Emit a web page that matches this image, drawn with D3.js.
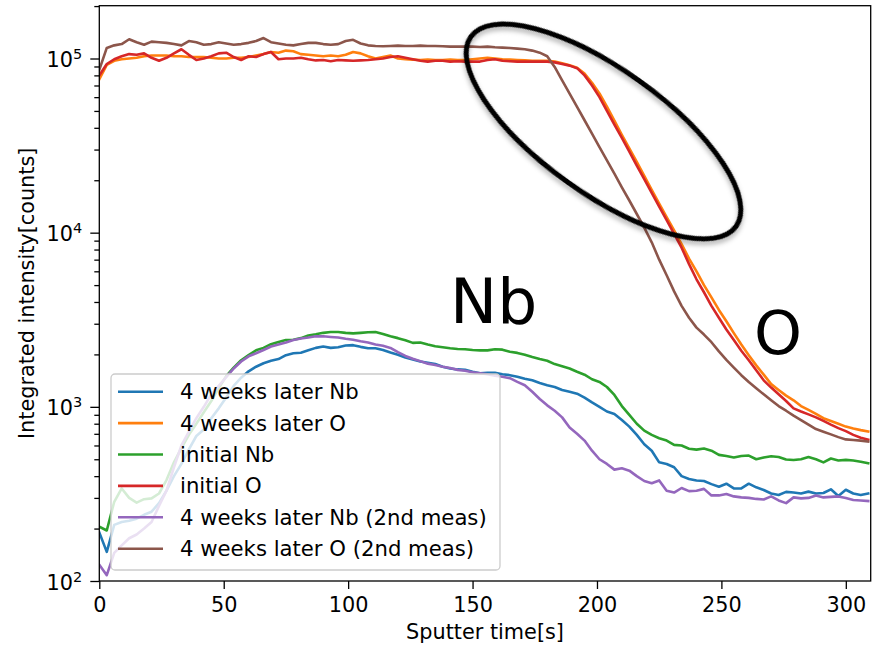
<!DOCTYPE html>
<html><head><meta charset="utf-8">
<script src="https://cdn.jsdelivr.net/npm/d3@7"></script>
<style>
body{margin:0;background:#fff;}
svg text{font-family:"DejaVu Sans",sans-serif;fill:#000;}
</style>
</head><body>
<svg id="chart" width="878" height="647"></svg>
<script>
// ---------- data ----------
const time = d3.range(0, 310, 3); // sputter time [s], one sample every 3 s

const seriesNames = [
  "4 weeks later Nb", "4 weeks later O", "initial Nb",
  "initial O", "4 weeks later Nb (2nd meas)", "4 weeks later O (2nd meas)"
];
const seriesColors = ["#1f77b4", "#ff7f0e", "#2ca02c", "#d62728", "#9467bd", "#8c564b"];

const laterNb = [
  190,147,210,218,222,228,240,250,280,330,
  400,470,570,680,740,860,980,1130,1320,1470,
  1600,1700,1780,1840,1880,1980,2030,2045,2110,2180,
  2220,2180,2200,2250,2260,2210,2170,2170,2120,2050,
  1990,1920,1870,1820,1790,1760,1700,1660,1640,1630,
  1590,1560,1570,1570,1540,1520,1490,1450,1420,1370,
  1330,1300,1250,1220,1190,1130,1060,1000,940,910,
  840,770,690,610,560,480,470,450,400,385,
  378,375,360,348,362,340,340,362,345,333,
  318,312,325,322,318,326,318,320,336,308,
  334,318,312,318
];
const laterO = [
  76000,92000,97000,99000,100000,101000,103000,104000,104000,104000,
  103000,103000,102000,102000,102000,101000,100000,100000,101000,101000,
  102000,104000,106000,109000,108000,111000,110000,106000,105000,104000,
  103000,104000,103000,105000,109000,107000,103000,100000,102000,104000,
  100000,99000,98500,98000,98500,98000,98000,98500,98000,98000,
  99000,100000,101000,100000,99000,98500,98000,97500,97000,97000,
  97000,96000,94000,91500,88500,82000,72500,63000,53000,44000,
  36500,30500,25500,21200,17600,14700,12300,10300,8600,7100,
  6000,5000,4250,3600,3100,2650,2280,1980,1730,1530,
  1350,1250,1160,1090,1010,960,910,860,830,800,
  770,750,735,722
];
const initialNb = [
  205,195,285,340,300,282,295,298,318,380,
  480,580,690,800,930,1080,1280,1500,1680,1850,
  1980,2110,2180,2290,2360,2420,2430,2480,2570,2610,
  2660,2690,2690,2660,2640,2660,2680,2690,2620,2540,
  2480,2410,2330,2340,2280,2230,2200,2170,2150,2140,
  2120,2110,2110,2140,2130,2070,2040,1990,1930,1880,
  1840,1760,1710,1660,1590,1530,1440,1390,1300,1170,
  1010,900,800,730,690,660,640,605,600,575,
  568,576,560,530,522,512,522,525,500,512,
  520,515,498,495,500,515,500,480,505,492,
  496,492,484,474
];
const initialO = [
  80000,93000,99000,103000,106000,105000,107000,101000,97000,101000,
  107000,113000,105000,98000,100000,103000,107000,108000,102000,98000,
  103000,102000,106000,109000,99000,100000,100000,101000,99000,97500,
  98000,96500,98000,97500,97000,97500,98000,99000,100000,102000,
  103000,101000,99000,97000,96000,97000,97000,96000,96500,96000,
  96000,96000,98000,99000,97000,96500,96000,96000,96000,96000,
  96000,95000,93000,91000,88000,80000,70000,60000,50000,41700,
  35000,29200,24300,20300,16900,14100,11800,9840,8200,6600,
  5400,4550,3800,3250,2780,2420,2100,1850,1620,1420,
  1290,1180,1080,980,940,905,870,830,790,755,
  725,690,665,648
];
const laterNb2 = [
  124,108,145,160,176,185,200,218,270,330,
  450,600,720,860,1000,1180,1320,1480,1660,1820,
  1950,2030,2120,2220,2280,2340,2420,2470,2500,2540,
  2540,2520,2500,2460,2430,2380,2340,2280,2240,2180,
  2060,1960,1890,1830,1770,1740,1700,1670,1630,1610,
  1580,1560,1540,1510,1490,1460,1390,1330,1220,1110,
  1020,950,870,760,700,640,560,500,470,436,
  444,430,400,375,364,378,330,322,342,328,
  330,338,310,310,316,306,302,300,296,294,
  306,290,280,302,298,300,310,302,304,306,
  300,292,290,288
];
const laterO2 = [
  86000,115000,119000,121000,129000,124000,120000,125000,124000,123000,
  121000,119000,126000,124000,120000,121000,124000,122000,120000,121000,
  123000,126000,131000,124000,122000,120000,119000,121000,123000,123000,
  121000,120000,121000,126000,128000,122000,119000,118000,117500,118000,
  118500,118000,118000,118500,118000,118000,117500,117000,117000,117000,
  117000,116500,117000,116000,115500,115000,114000,113000,111000,108000,
  103000,89500,75000,62800,52700,44200,37000,31000,26000,21800,
  18200,15300,12800,10700,8800,7000,5700,4600,3800,3250,
  2850,2600,2350,2080,1860,1680,1520,1390,1280,1180,
  1090,1010,950,890,840,790,745,720,695,670,
  650,645,640,632
];
const seriesValues = [laterNb, laterO, initialNb, initialO, laterNb2, laterO2];

const xTicks = [0, 50, 100, 150, 200, 250, 300];
const yMajorTicks = [1e2, 1e3, 1e4, 1e5];
const xLabel = "Sputter time[s]";
const yLabel = "Integrated intensity[counts]";
const annotations = [{text: "Nb"}, {text: "O"}];

// ---------- layout ----------
const svg = d3.select("#chart");
const L = 99.3, R = 870.7, T = 5.7, B = 581;
const x = d3.scaleLinear().domain([0, 310]).range([L, R]);
const y = d3.scaleLog().domain([100, 2.01e5]).range([B, T]);

svg.append("rect").attr("width", 878).attr("height", 647).attr("fill", "#fff");

const defs = svg.append("defs");
defs.append("clipPath").attr("id", "plotclip")
  .append("rect").attr("x", L).attr("y", T).attr("width", R - L).attr("height", B - T);
const f = defs.append("filter").attr("id", "shadow")
  .attr("x", "-20%").attr("y", "-20%").attr("width", "140%").attr("height", "140%");
f.append("feDropShadow").attr("dx", 2).attr("dy", 3).attr("stdDeviation", 2.5)
  .attr("flood-color", "#000").attr("flood-opacity", 0.3);

// lines
const line = d3.line().x((d, i) => x(time[i])).y(d => y(d));
const gLines = svg.append("g").attr("clip-path", "url(#plotclip)");
seriesValues.forEach((vals, k) => {
  gLines.append("path").datum(vals)
    .attr("d", line)
    .attr("fill", "none")
    .attr("stroke", seriesColors[k])
    .attr("stroke-width", 2.6)
    .attr("stroke-linejoin", "round")
    .attr("stroke-linecap", "square");
});

// axes
const fs = 20.8;
const xAxis = svg.append("g").attr("transform", `translate(0,${B})`)
  .call(d3.axisBottom(x).tickValues(xTicks).tickSize(8).tickPadding(8.5).tickFormat(d3.format("d")));
const yMinor = [];
[100, 1000, 10000, 100000].forEach(base => {
  for (let m = 2; m <= 9; m++) { const v = base * m; if (v <= 2.01e5) yMinor.push(v); }
});
const yAxisMinor = svg.append("g").attr("transform", `translate(${L},0)`)
  .call(d3.axisLeft(y).tickValues(yMinor).tickSize(5).tickFormat(""));
const yAxis = svg.append("g").attr("transform", `translate(${L},0)`)
  .call(d3.axisLeft(y).tickValues(yMajorTicks).tickSize(9).tickPadding(8).tickFormat(""));

[xAxis, yAxis, yAxisMinor].forEach(g => {
  g.select(".domain").remove();
  g.selectAll(".tick line").attr("stroke", "#000").attr("stroke-width", 1.3);
  g.selectAll("text").attr("font-size", fs).attr("font-family", "DejaVu Sans").attr("fill", "#000");
});
yAxis.selectAll(".tick text").each(function(d) {
  const t = d3.select(this).attr("dy", "8px");
  t.text(null);
  t.append("tspan").text("10");
  t.append("tspan").attr("dy", "-8px").attr("font-size", 14.5).text(Math.round(Math.log10(d)));
});

// spines
svg.append("rect").attr("x", L).attr("y", T).attr("width", R - L).attr("height", B - T)
  .attr("fill", "none").attr("stroke", "#000").attr("stroke-width", 1.3);

// axis labels
svg.append("text").attr("x", (L + R) / 2).attr("y", 639).attr("text-anchor", "middle")
  .attr("font-size", fs).text(xLabel);
svg.append("text").attr("transform", `translate(34,${(T + B) / 2}) rotate(-90)`)
  .attr("text-anchor", "middle").attr("font-size", fs).text(yLabel);

// legend
const lg = svg.append("g");
lg.append("rect").attr("x", 111).attr("y", 374).attr("width", 389).attr("height", 196)
  .attr("rx", 4).attr("fill", "#fff").attr("fill-opacity", 0.8)
  .attr("stroke", "#cccccc").attr("stroke-width", 1.3);
seriesNames.forEach((name, k) => {
  const cy = 391.7 + k * 31.4;
  lg.append("line").attr("x1", 118).attr("x2", 163).attr("y1", cy).attr("y2", cy)
    .attr("stroke", seriesColors[k]).attr("stroke-width", 2.6);
  lg.append("text").attr("x", 180).attr("y", cy + 7.5).attr("font-size", 21.2).text(name);
});

// annotations
svg.append("ellipse").attr("cx", 603.5).attr("cy", 131.5).attr("rx", 163).attr("ry", 62)
  .attr("transform", "rotate(35.6 603.5 131.5)")
  .attr("fill", "none").attr("stroke", "#000").attr("stroke-width", 5)
  .attr("filter", "url(#shadow)");
svg.append("text").attr("x", 450).attr("y", 322.7).attr("font-size", 63).text(annotations[0].text);
svg.append("text").attr("x", 754).attr("y", 354).attr("font-size", 61).text(annotations[1].text);
</script>
</body></html>
